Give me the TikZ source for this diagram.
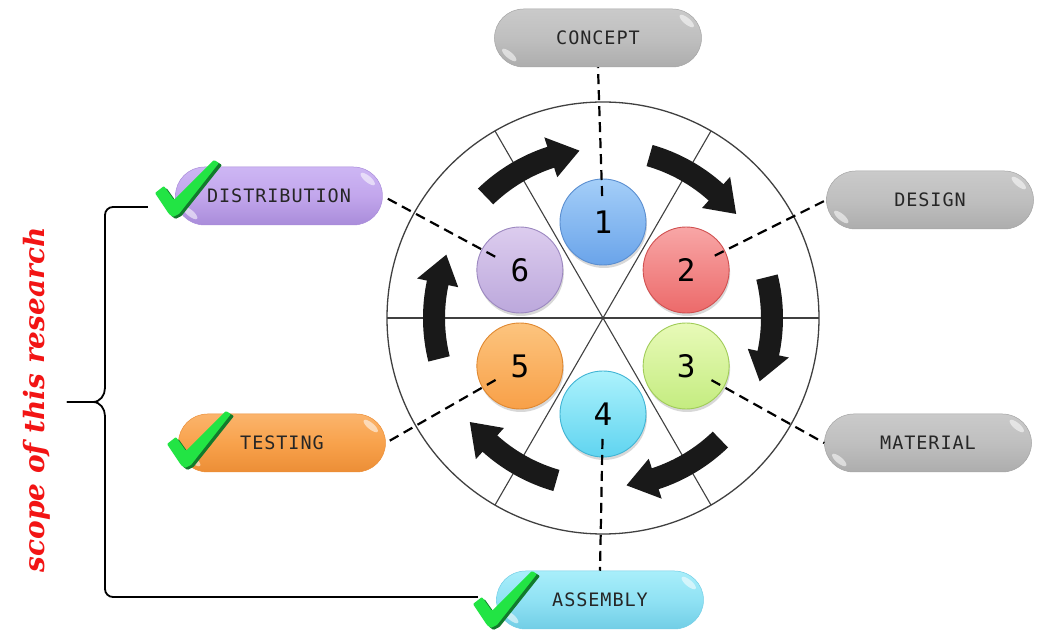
\documentclass[tikz,border=0pt]{standalone}
\usepackage{fontspec}
\usetikzlibrary{shapes.misc,calc,shadows}
\newfontfamily\labelfont{DejaVu Sans Mono}
\newfontfamily\scopefont{DejaVu Serif}

% ball colours (top / bottom / rim)
\definecolor{b1t}{HTML}{A4CEF8}\definecolor{b1b}{HTML}{6AA4EA}\definecolor{b1r}{HTML}{5A8ED0}
\definecolor{b2t}{HTML}{F8A6A6}\definecolor{b2b}{HTML}{EC6A6A}\definecolor{b2r}{HTML}{D05050}
\definecolor{b3t}{HTML}{E8FAB8}\definecolor{b3b}{HTML}{C4EC80}\definecolor{b3r}{HTML}{A0CC58}
\definecolor{b4t}{HTML}{ACF2FC}\definecolor{b4b}{HTML}{60D4F0}\definecolor{b4r}{HTML}{40B4D4}
\definecolor{b5t}{HTML}{FCC47E}\definecolor{b5b}{HTML}{F8A048}\definecolor{b5r}{HTML}{E08830}
\definecolor{b6t}{HTML}{DCCCEE}\definecolor{b6b}{HTML}{BCA8DC}\definecolor{b6r}{HTML}{9C88C0}
% pill colours
\definecolor{gy1}{HTML}{CACACA}\definecolor{gy2}{HTML}{BFBFBF}\definecolor{gy3}{HTML}{ADADAD}\definecolor{gy4}{HTML}{A4A4A4}
\definecolor{pu1}{HTML}{CDB6F4}\definecolor{pu2}{HTML}{C2A6EC}\definecolor{pu3}{HTML}{A98CDA}
\definecolor{or1}{HTML}{FBB46C}\definecolor{or2}{HTML}{F8A24C}\definecolor{or3}{HTML}{EC8E36}
\definecolor{cy1}{HTML}{A8EEFA}\definecolor{cy2}{HTML}{90E2F4}\definecolor{cy3}{HTML}{72CEE6}
\definecolor{tickgreen}{HTML}{22E444}
\definecolor{tickdark}{HTML}{127A2C}
\definecolor{scopered}{HTML}{F21414}

\begin{document}
\begin{tikzpicture}[x=1pt,y=1pt,
  pill/.style={rounded rectangle, minimum width=207pt, minimum height=58pt,
    inner sep=0pt, text=black!85,
    font=\labelfont\fontsize{18.5}{18.5}\selectfont\addfontfeature{LetterSpace=5}},
  graypill/.style={pill, top color=gy1, bottom color=gy3, middle color=gy2, draw=gy4, line width=0.5pt},
  purplepill/.style={pill, top color=pu1, bottom color=pu3, middle color=pu2, draw=pu3, line width=0.5pt},
  orangepill/.style={pill, top color=or1, bottom color=or3, middle color=or2, draw=or3, line width=0.5pt},
  cyanpill/.style={pill, top color=cy1, bottom color=cy3, middle color=cy2, draw=cy3, line width=0.5pt},
  ball/.style={circle, minimum size=86pt, inner sep=0pt, line width=0.9pt,
    font=\labelfont\fontsize{31}{31}\selectfont, text=black,
    drop shadow={opacity=0.3, shadow xshift=1pt, shadow yshift=-3pt}},
  ring/.style={draw=black!75, line width=1.3pt},
  link/.style={draw=black, line width=2.2pt, dash pattern=on 10pt off 6pt},
  cycarrow/.style={fill=black!90},
  glint/.style={fill=white, opacity=0.55},
  bracket/.style={draw=black, line width=1.8pt},
  greentick/.pic={
    \fill[tickdark, rounded corners=1pt] (2.5,22) -- (11.5,29) -- (21.5,15)
      -- (62,55) -- (67,52) -- (26.5,1) -- (20.5,-2) -- (16.5,1) -- cycle;
    \fill[tickgreen, rounded corners=1pt] (0,24) -- (9,31) -- (19,17)
      -- (59,57) -- (64,54) -- (24,3) -- (18,0) -- (14,3) -- cycle;
  },
]
\useasboundingbox (-603,-313) rectangle (434,318);
\fill[white] (-603,-313) rectangle (434,318);

% wheel with six sectors
\draw[ring] (0,0) circle[radius=216];
\foreach \a in {0,60,120}
  \draw[ring, line width=1.1pt] (\a:216) -- (\a+180:216);

% curved cycle arrows
\foreach \m in {116,56,-4,-64,-124,176}{
  \pgfmathsetmacro\ta{\m+18}
  \pgfmathsetmacro\hb{\m-8}
  \pgfmathsetmacro\tp{\m-18}
  \fill[cycarrow] (\ta:180) arc[start angle=\ta, end angle=\hb, radius=180]
    -- (\hb:190) -- (\tp:169) -- (\hb:148) -- (\hb:158)
    arc[start angle=\hb, end angle=\ta, radius=158] -- cycle;
}

% numbered steps
\node[ball, top color=b1t, bottom color=b1b, draw=b1r] (b1) at (90:96) {1};
\node[ball, top color=b2t, bottom color=b2b, draw=b2r] (b2) at (30:96) {2};
\node[ball, top color=b3t, bottom color=b3b, draw=b3r] (b3) at (-30:96) {3};
\node[ball, top color=b4t, bottom color=b4b, draw=b4r] (b4) at (-90:96) {4};
\node[ball, top color=b5t, bottom color=b5b, draw=b5r] (b5) at (-150:96) {5};
\node[ball, top color=b6t, bottom color=b6b, draw=b6r] (b6) at (150:96) {6};

% stage labels
\node[graypill]   (p1) at (-5,280)    {CONCEPT};
\node[graypill]   (p2) at (327,118)   {DESIGN};
\node[graypill]   (p3) at (325,-125)  {MATERIAL};
\node[cyanpill]   (p4) at (-3,-282)   {ASSEMBLY};
\node[orangepill] (p5) at (-321,-125) {TESTING};
\node[purplepill] (p6) at (-324,122)  {DISTRIBUTION};

% glossy highlights on the labels
\foreach \p in {p1,p2,p3,p4,p5,p6}{
  \fill[glint] ($(\p.east)+(-15,17)$) circle[x radius=9, y radius=3.2, rotate=-40];
  \fill[glint] ($(\p.west)+(15,-17)$) circle[x radius=9, y radius=3.2, rotate=-40];
}

% dashed links from steps to labels
\coordinate (e1) at ($(b1)!26pt!(p1.south)$);
\coordinate (e2) at ($(b2)!32pt!(p2.west)$);
\coordinate (e3) at ($(b3)!29pt!(p3.west)$);
\coordinate (e4) at ($(b4)!25pt!(p4.north)$);
\coordinate (e5) at ($(b5)!28pt!(p5.east)$);
\coordinate (e6) at ($(b6)!28pt!(p6.east)$);
\draw[link] (e1) -- (p1.south);
\draw[link] (e2) -- (p2.west);
\draw[link] (e3) -- (p3.west);
\draw[link] (e4) -- (p4.north);
\draw[link] (e5) -- (p5.east);
\draw[link] (e6) -- (p6.east);

% ticks on the stages within scope
\pic at (-448,101) {greentick};
\pic at (-436,-150) {greentick};
\pic at (-130,-310) {greentick};

% bracket grouping the ticked stages
\coordinate (bt) at (-455,111);
\coordinate (bb) at (-125,-279);
\coordinate (btip) at (-536,-84);
\draw[bracket] (bt) -- (-490,111) to[out=180,in=90] (-498,103) -- (-498,-70)
  to[out=-90,in=0] (-510,-84) -- (btip);
\draw[bracket] (btip) -- (-510,-84) to[out=0,in=90] (-498,-98) -- (-498,-271)
  to[out=-90,in=180] (-490,-279) -- (bb);

\node[rotate=90, text=scopered, font=\scopefont\itshape\bfseries\fontsize{28}{28}\selectfont]
  (scope) at (-566,-82) {scope of this research};
\end{tikzpicture}
\end{document}
